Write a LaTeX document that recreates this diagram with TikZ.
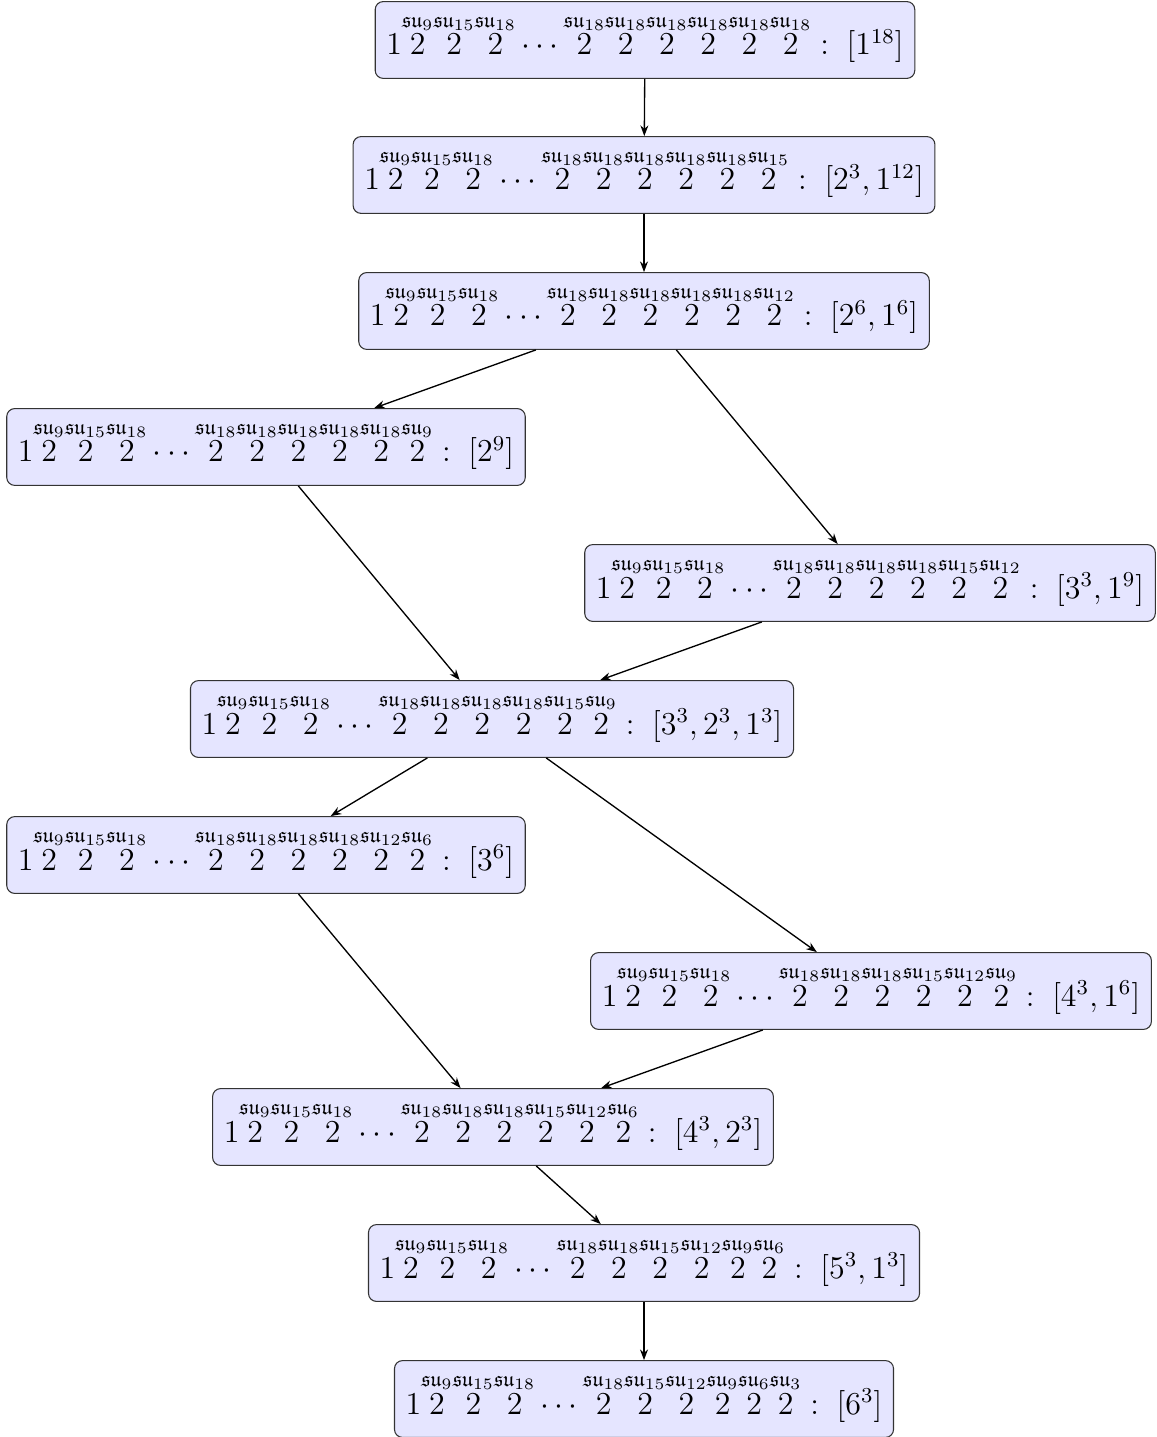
\documentclass[tikz,border=0pt,12pt]{standalone}
\usepackage{amsmath,amssymb}
\usetikzlibrary{arrows.meta}
\newcommand{\lbl}[1]{\mathord{\overset{\mathfrak{su}_{#1}}{2}}}
\newcommand{\sep}{\mathrel{:}\;}
\begin{document}
\begin{tikzpicture}[x=0.376pt,y=-0.376pt,
  qbox/.style={draw=black!80, fill=blue!10, rounded corners=3pt, inner xsep=4.2pt, inner ysep=4.9pt, text depth=3.9pt},
  arr/.style={-{Stealth[length=4pt,width=3pt]}, line width=0.5pt}]
\useasboundingbox (0,0) rectangle (1156,1437);
\node[qbox] (n1) at (645,40) {$1\lbl{9}\lbl{15}\lbl{18}\cdots\lbl{18}\lbl{18}\lbl{18}\lbl{18}\lbl{18}\lbl{18}\sep[1^{18}]$};
\node[qbox] (n2) at (644,175) {$1\lbl{9}\lbl{15}\lbl{18}\cdots\lbl{18}\lbl{18}\lbl{18}\lbl{18}\lbl{18}\lbl{15}\sep[2^3,1^{12}]$};
\node[qbox] (n3) at (644,311) {$1\lbl{9}\lbl{15}\lbl{18}\cdots\lbl{18}\lbl{18}\lbl{18}\lbl{18}\lbl{18}\lbl{12}\sep[2^6,1^6]$};
\node[qbox] (n4) at (266,447) {$1\lbl{9}\lbl{15}\lbl{18}\cdots\lbl{18}\lbl{18}\lbl{18}\lbl{18}\lbl{18}\lbl{9}\sep[2^9]$};
\node[qbox] (n5) at (870,583) {$1\lbl{9}\lbl{15}\lbl{18}\cdots\lbl{18}\lbl{18}\lbl{18}\lbl{18}\lbl{15}\lbl{12}\sep[3^3,1^9]$};
\node[qbox] (n6) at (492,719) {$1\lbl{9}\lbl{15}\lbl{18}\cdots\lbl{18}\lbl{18}\lbl{18}\lbl{18}\lbl{15}\lbl{9}\sep[3^3,2^3,1^3]$};
\node[qbox] (n7) at (266,855) {$1\lbl{9}\lbl{15}\lbl{18}\cdots\lbl{18}\lbl{18}\lbl{18}\lbl{18}\lbl{12}\lbl{6}\sep[3^6]$};
\node[qbox] (n8) at (871,991) {$1\lbl{9}\lbl{15}\lbl{18}\cdots\lbl{18}\lbl{18}\lbl{18}\lbl{15}\lbl{12}\lbl{9}\sep[4^3,1^6]$};
\node[qbox] (n9) at (493,1127) {$1\lbl{9}\lbl{15}\lbl{18}\cdots\lbl{18}\lbl{18}\lbl{18}\lbl{15}\lbl{12}\lbl{6}\sep[4^3,2^3]$};
\node[qbox] (n10) at (644,1263) {$1\lbl{9}\lbl{15}\lbl{18}\cdots\lbl{18}\lbl{18}\lbl{15}\lbl{12}\lbl{9}\lbl{6}\sep[5^3,1^3]$};
\node[qbox] (n11) at (644,1399) {$1\lbl{9}\lbl{15}\lbl{18}\cdots\lbl{18}\lbl{15}\lbl{12}\lbl{9}\lbl{6}\lbl{3}\sep[6^3]$};
\draw[arr] (n1) -- (n2);
\draw[arr] (n2) -- (n3);
\draw[arr] (n3) -- (n4);
\draw[arr] (n3) -- (n5);
\draw[arr] (n4) -- (n6);
\draw[arr] (n5) -- (n6);
\draw[arr] (n6) -- (n7);
\draw[arr] (n6) -- (n8);
\draw[arr] (n7) -- (n9);
\draw[arr] (n8) -- (n9);
\draw[arr] (n9) -- (n10);
\draw[arr] (n10) -- (n11);
\end{tikzpicture}
\end{document}
